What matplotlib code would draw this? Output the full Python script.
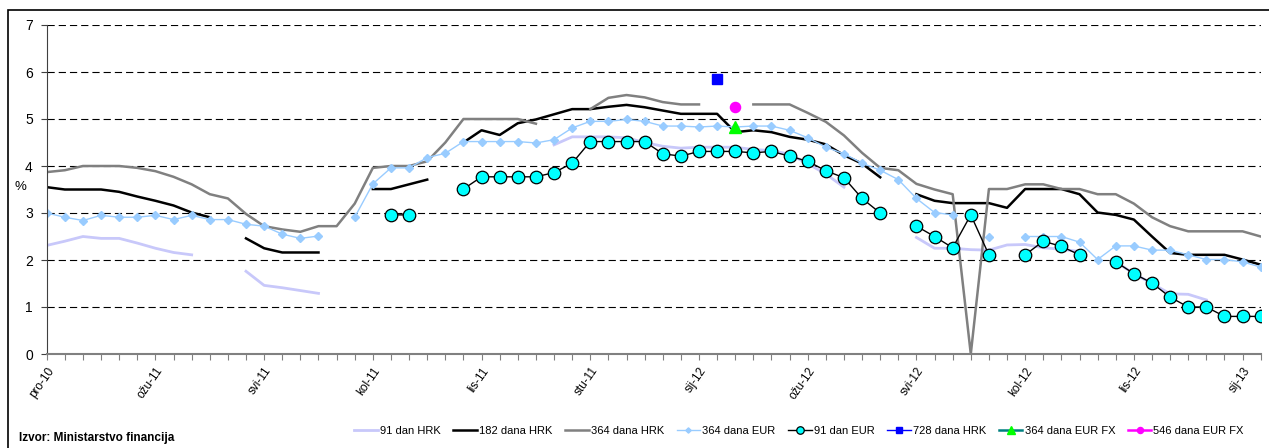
# plot_trezorski_zapisi.py

import numpy as np
import matplotlib.pyplot as plt
from matplotlib.patches import Rectangle

plt.rcParams['font.family'] = ['Liberation Sans', 'DejaVu Sans']

nan = np.nan

# auction dates on a category axis, only every 6th one is labelled
month_labels = ['pro-10', 'ožu-11', 'svi-11', 'kol-11', 'lis-11', 'stu-11',
                'sij-12', 'ožu-12', 'svi-12', 'kol-12', 'lis-12', 'sij-13']
label_step = 6
n_auctions = 68

dan91_hrk = [2.31, 2.40, 2.50, 2.46, 2.46, 2.36, 2.25, 2.16, 2.11, nan,
             nan, 1.76, 1.46, 1.41, 1.35, 1.29, nan, nan, nan, nan,
             nan, nan, nan, nan, nan, nan, nan, nan, 4.45, 4.62,
             4.62, 4.62, 4.60, 4.50, 4.42, 4.38, 4.40, 4.40, 4.40, 4.35,
             4.33, 4.25, 4.05, 3.83, 3.55, nan, nan, nan, 2.48, 2.25,
             2.25, 2.22, 2.21, 2.32, 2.33, 2.26, 2.23, 2.18, nan, 1.96,
             1.71, 1.50, 1.28, 1.27, 1.15, nan, nan, nan]

dana182_hrk = [3.55, 3.50, 3.50, 3.50, 3.45, 3.35, 3.26, 3.16, 3.01, 2.91,
               nan, 2.46, 2.25, 2.16, 2.16, 2.16, nan, nan, 3.51, 3.51,
               3.61, 3.71, nan, 4.50, 4.76, 4.66, 4.91, 4.99, 5.10, 5.21,
               5.21, 5.26, 5.30, 5.25, 5.18, 5.11, 5.11, 5.11, 4.72, 4.76,
               4.72, 4.62, 4.56, 4.46, 4.23, 4.05, 3.76, nan, 3.40, 3.26,
               3.21, 3.21, 3.21, 3.11, 3.51, 3.51, 3.51, 3.40, 3.01, 2.96,
               2.86, 2.50, 2.15, 2.11, 2.11, 2.11, 2.01, 1.90]

dana364_hrk = [3.87, 3.91, 4.00, 4.00, 4.00, 3.96, 3.89, 3.77, 3.61, 3.40,
               3.31, 2.98, 2.72, 2.65, 2.60, 2.72, 2.72, 3.20, 3.96, 4.00,
               4.00, 4.10, 4.50, 5.00, 5.00, 5.00, 5.00, 4.90, nan, nan,
               5.21, 5.45, 5.51, 5.46, 5.36, 5.31, 5.31, nan, nan, 5.31,
               5.31, 5.31, 5.13, 4.94, 4.65, 4.28, 3.96, 3.91, 3.62, 3.50,
               3.40, 0.00, 3.51, 3.51, 3.61, 3.61, 3.51, 3.51, 3.40, 3.40,
               3.20, 2.91, 2.72, 2.61, 2.61, 2.61, 2.61, 2.50]

dana364_eur = [3.00, 2.91, 2.84, 2.95, 2.91, 2.91, 2.95, 2.86, 2.95, 2.86,
               2.86, 2.76, 2.72, 2.55, 2.46, 2.51, nan, 2.91, 3.62, 3.96,
               3.96, 4.18, 4.27, 4.52, 4.52, 4.52, 4.52, 4.49, 4.56, 4.81,
               4.95, 4.95, 4.99, 4.95, 4.85, 4.85, 4.83, 4.85, 4.83, 4.85,
               4.85, 4.76, 4.60, 4.40, 4.26, 4.06, 3.91, 3.71, 3.31, 3.01,
               2.96, nan, 2.50, nan, 2.50, 2.50, 2.50, 2.38, 2.01, 2.30,
               2.30, 2.21, 2.21, 2.11, 2.01, 2.01, 1.96, 1.85]

dan91_eur = [nan, nan, nan, nan, nan, nan, nan, nan, nan, nan,
             nan, nan, nan, nan, nan, nan, nan, nan, nan, 2.96,
             2.96, nan, nan, 3.51, 3.77, 3.77, 3.77, 3.77, 3.86, 4.06,
             4.52, 4.52, 4.52, 4.52, 4.26, 4.21, 4.31, 4.31, 4.31, 4.28,
             4.31, 4.21, 4.10, 3.90, 3.75, 3.31, 3.00, nan, 2.72, 2.50,
             2.26, 2.96, 2.11, nan, 2.11, 2.40, 2.29, 2.11, nan, 1.96,
             1.71, 1.51, 1.21, 1.00, 1.00, 0.80, 0.80, 0.80]

# single auctions
dana728_hrk = {37: 5.86}
dana364_eur_fx = {38: 4.83}
dana546_eur_fx = {38: 5.26}


def single_series(points):
    vals = np.full(n_auctions, nan)
    for k, v in points.items():
        vals[k] = v
    return vals


fig = plt.figure(figsize=(12.69, 4.48), dpi=100)
ax = fig.add_axes([46.7 / 1269, 94 / 448, 1214 / 1269, 329 / 448])

x = np.arange(n_auctions)

ax.plot(x, dan91_hrk, color='#C8C8FA', lw=2, label='91 dan HRK')
ax.plot(x, dana182_hrk, color='black', lw=1.8, label='182 dana HRK')
ax.plot(x, dana364_hrk, color='#808080', lw=1.8, label='364 dana HRK')
ax.plot(x, dana364_eur, color='#99CCFF', lw=1, marker='D', ms=4.5,
        mec='#99CCFF', mfc='#99CCFF', label='364 dana EUR')
ax.plot(x, dan91_eur, color='black', lw=1, marker='o', ms=9,
        mfc='#00FFFF', mec='black', mew=0.9, label='91 dan EUR')
ax.plot(x, single_series(dana728_hrk), color='#0000FF', lw=1, marker='s',
        ms=7.5, mfc='#0000FF', mec='#0000FF', label='728 dana HRK')
ax.plot(x, single_series(dana364_eur_fx), color='#008080', lw=1.8, marker='^',
        ms=8.5, mfc='#00FF00', mec='#00FF00', label='364 dana EUR FX')
ax.plot(x, single_series(dana546_eur_fx), color='#FF00FF', lw=1.8, marker='o',
        ms=7.3, mfc='#FF00FF', mec='#FF00FF', label='546 dana EUR FX')

ax.set_xlim(0, n_auctions - 1)
ax.set_ylim(0, 7)
ax.set_yticks(range(0, 8))
ax.grid(axis='y', color='black', lw=0.8, linestyle=(0, (6.5, 3.6)))
ax.set_axisbelow(True)

ax.set_xticks(x)
labels = [''] * n_auctions
for k, lab in enumerate(month_labels):
    labels[k * label_step] = lab
ax.set_xticklabels(labels, rotation=55, ha='right', rotation_mode='anchor',
                   fontsize=8.5)
ax.tick_params(axis='x', direction='out', length=4, color='#808080', pad=4)
ax.tick_params(axis='y', direction='out', length=4, color='#404040',
               labelsize=10, pad=6)

for side in ['top', 'right']:
    ax.spines[side].set_visible(False)
ax.spines['left'].set_color('#404040')
ax.spines['bottom'].set_color('#808080')
ax.spines['bottom'].set_linewidth(1.5)

ax.set_ylabel('%', rotation=0, fontsize=9.5)
ax.yaxis.set_label_coords(-0.022, 0.49)

fig.legend(loc='center right', bbox_to_anchor=(0.988, 0.038), ncol=8,
           frameon=False, fontsize=8, handlelength=2.1, handletextpad=0.2,
           columnspacing=1.15, markerscale=0.6)

fig.text(19 / 1269, 1 - 438 / 448, 'Izvor: Ministarstvo financija',
         fontsize=8.5, fontweight='bold', va='center')

fig.patches.append(Rectangle((8 / 1269, -0.05), 1.1, 1.05 - 10 / 448,
                             transform=fig.transFigure, fill=False,
                             edgecolor='black', lw=1.2))

fig.savefig('out.png', dpi=100)
